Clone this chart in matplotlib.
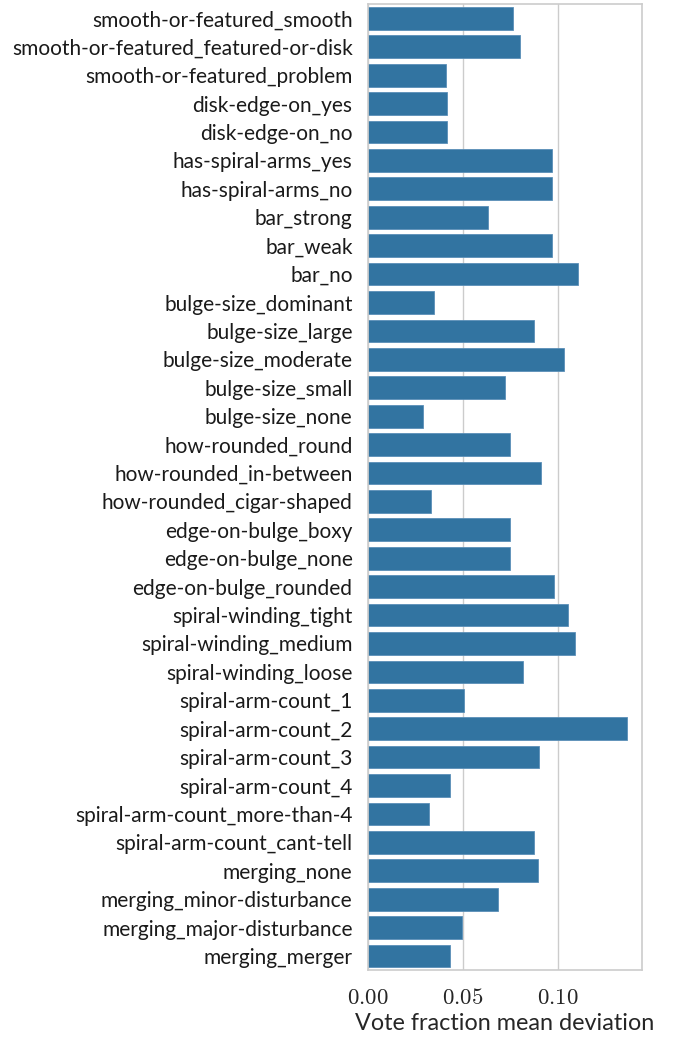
import matplotlib
matplotlib.use("Agg")
import matplotlib.pyplot as plt
import seaborn as sns
from matplotlib.ticker import FuncFormatter

questions = [
    "smooth-or-featured_smooth",
    "smooth-or-featured_featured-or-disk",
    "smooth-or-featured_problem",
    "disk-edge-on_yes",
    "disk-edge-on_no",
    "has-spiral-arms_yes",
    "has-spiral-arms_no",
    "bar_strong",
    "bar_weak",
    "bar_no",
    "bulge-size_dominant",
    "bulge-size_large",
    "bulge-size_moderate",
    "bulge-size_small",
    "bulge-size_none",
    "how-rounded_round",
    "how-rounded_in-between",
    "how-rounded_cigar-shaped",
    "edge-on-bulge_boxy",
    "edge-on-bulge_none",
    "edge-on-bulge_rounded",
    "spiral-winding_tight",
    "spiral-winding_medium",
    "spiral-winding_loose",
    "spiral-arm-count_1",
    "spiral-arm-count_2",
    "spiral-arm-count_3",
    "spiral-arm-count_4",
    "spiral-arm-count_more-than-4",
    "spiral-arm-count_cant-tell",
    "merging_none",
    "merging_minor-disturbance",
    "merging_major-disturbance",
    "merging_merger",
]

mean_deviation = [
    0.0766, 0.0799, 0.0411,
    0.0418, 0.0418,
    0.0967, 0.0967,
    0.0631, 0.0969, 0.1104,
    0.0348, 0.0873, 0.1034, 0.0722, 0.0290,
    0.0746, 0.0912, 0.0331,
    0.0748, 0.0748, 0.0978,
    0.1052, 0.1092, 0.0818,
    0.0508, 0.1367, 0.0899, 0.0431, 0.0324, 0.0876,
    0.0897, 0.0683, 0.0496, 0.0434,
]

sns.set_theme(style="whitegrid")
plt.rcParams["font.family"] = ["Lato", "DejaVu Sans"]
plt.rcParams["mathtext.fontset"] = "cm"

fig, ax = plt.subplots(figsize=(6.75, 10.41), dpi=100)
sns.barplot(x=mean_deviation, y=questions, color="#3274a1", saturation=1,
            orient="h", ax=ax, edgecolor="#5a8fb8", linewidth=0.6)

ax.xaxis.set_major_formatter(FuncFormatter(lambda v, pos: f"${v:.2f}$"))
ax.set_xticks([0.0, 0.05, 0.10])
ax.set_xlim(0, 0.1443)
ax.tick_params(axis="x", labelsize=16.5, pad=6)
ax.tick_params(axis="y", labelsize=15, pad=5)
ax.set_xlabel("Vote fraction mean deviation", fontsize=16.8, labelpad=4)
for lab in ax.get_yticklabels():
    lab.set_color("#1a1a1a")
for s in ax.spines.values():
    s.set_color("#cccccc")
    s.set_linewidth(1.2)

fig.subplots_adjust(left=0.545, right=0.951, top=0.996, bottom=0.068)
fig.savefig("out.png", dpi=100)
